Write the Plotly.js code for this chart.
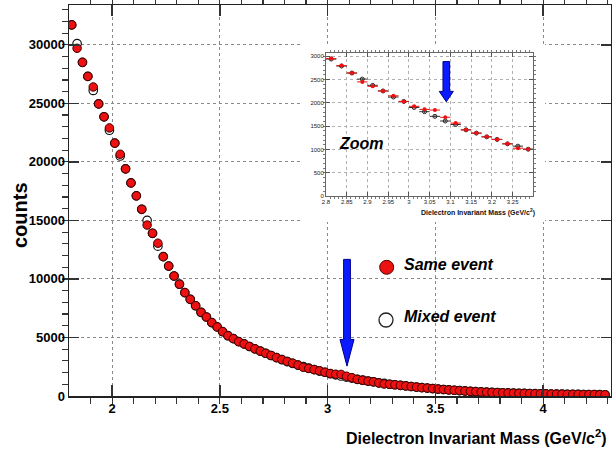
<!DOCTYPE html>
<html>
<head>
<meta charset="utf-8">
<script src="https://cdn.plot.ly/plotly-3.0.1.min.js"></script>
<style>
html,body{margin:0;padding:0;background:#fff;}
#wrap{position:relative;width:612px;height:450px;}
#chart{position:absolute;left:0;top:0;width:612px;height:450px;}
#inset{position:absolute;left:303px;top:44px;width:242px;height:178px;}
</style>
</head>
<body>
<div id="wrap"><div id="chart"></div><div id="inset"></div></div>
<script>
// ---- data (bin centres in GeV/c^2, counts per bin) ----
const massBins = [
  1.8125,1.8375,1.8625,1.8875,1.9125,1.9375,1.9625,1.9875,
  2.0125,2.0375,2.0625,2.0875,2.1125,2.1375,2.1625,2.1875,2.2125,2.2375,
  2.2625,2.2875,2.3125,2.3375,2.3625,2.3875,2.4125,2.4375,2.4625,2.4875,
  2.5125,2.5375,2.5625,2.5875,2.6125,2.6375,2.6625,2.6875,2.7125,2.7375,
  2.7625,2.7875,2.8125,2.8375,2.8625,2.8875,2.9125,2.9375,2.9625,2.9875,
  3.0125,3.0375,3.0625,3.0875,3.1125,3.1375,3.1625,3.1875,3.2125,3.2375,
  3.2625,3.2875,3.3125,3.3375,3.3625,3.3875,3.4125,3.4375,3.4625,3.4875,
  3.5125,3.5375,3.5625,3.5875,3.6125,3.6375,3.6625,3.6875,3.7125,3.7375,
  3.7625,3.7875,3.8125,3.8375,3.8625,3.8875,3.9125,3.9375,3.9625,3.9875,
  4.0125,4.0375,4.0625,4.0875,4.1125,4.1375,4.1625,4.1875,4.2125,4.2375,
  4.2625,4.2875
];
const sameEvent = [
  31700,29700,28500,27300,26400,24950,23850,22900,
  21600,20650,19400,18200,17100,15950,14600,13900,13050,11900,
  11100,10250,9550,8830,8260,7710,7150,6750,6270,5900,
  5500,5150,4900,4640,4450,4230,4030,3840,3650,3460,
  3280,3110,2950,2800,2640,2450,2355,2255,2150,2030,
  1925,1860,1845,1690,1565,1420,1350,1270,1215,1120,
  1025,1005,960,910,860,810,760,715,675,635,
  590,555,520,490,460,430,400,375,350,325,
  305,290,275,260,245,232,220,208,197,187,
  178,170,162,155,148,141,135,129,123,118,
  113,108
];
const mixedEvent = [
  31700,30100,28500,27300,26100,24950,23850,22700,
  21600,20500,19400,18200,17100,15950,15000,13900,12800,11900,
  11100,10250,9550,8830,8260,7710,7150,6750,6270,5900,
  5500,5150,4900,4640,4450,4230,4030,3840,3650,3460,
  3280,3110,2940,2790,2640,2510,2375,2255,2125,2030,
  1900,1810,1710,1610,1535,1420,1350,1270,1215,1120,
  1070,1005,960,910,860,810,760,715,675,635,
  590,555,520,490,460,430,400,375,350,325,
  305,290,275,260,245,232,220,208,197,187,
  178,170,162,155,148,141,135,129,123,118,
  113,108
];
const binHalfWidth = massBins.map(() => 0.0125);
const jpsiMass = 3.09;
const xTitle = 'Dielectron Invariant Mass (GeV/c<sup>2</sup>)';
const yTitle = 'counts';
const legendLabels = ['Same event', 'Mixed event'];
const zoomLabel = 'Zoom';

const FONT = 'Liberation Sans, Arial, sans-serif';
const RED = '#ee1111';
const BLUE = '#0a1cff';

function arrowPath(xc, yTop, yHeadBase, yTip, halfShaft, halfHead) {
  return 'M' + (xc - halfShaft) + ',' + yTop +
    ' L' + (xc + halfShaft) + ',' + yTop +
    ' L' + (xc + halfShaft) + ',' + yHeadBase +
    ' L' + (xc + halfHead) + ',' + yHeadBase +
    ' L' + xc + ',' + yTip +
    ' L' + (xc - halfHead) + ',' + yHeadBase +
    ' L' + (xc - halfShaft) + ',' + yHeadBase + ' Z';
}

// ================= main plot =================
const L = 69, R = 611, T = 5, B = 396;
const px = p => (p - L) / (R - L);
const py = p => (B - p) / (B - T);

const mainTraces = [
  {x: massBins, y: mixedEvent, type: 'scatter', mode: 'markers',
   marker: {symbol: 'circle', size: 8.5, color: '#ffffff', line: {color: '#111111', width: 1.2}},
   hoverinfo: 'skip', showlegend: false},
  {x: massBins, y: sameEvent, type: 'scatter', mode: 'markers',
   marker: {symbol: 'circle', size: 8.5, color: RED, line: {color: '#400000', width: 1}},
   hoverinfo: 'skip', showlegend: false}
];

const mainLayout = {
  width: 612, height: 450,
  margin: {l: L, r: 612 - R, t: T, b: 450 - B, pad: 0},
  paper_bgcolor: '#ffffff', plot_bgcolor: '#ffffff',
  showlegend: false,
  font: {family: FONT, color: '#000'},
  xaxis: {
    range: [1.8, 4.315], ticks: 'inside', showline: true, mirror: 'allticks', zeroline: false,
    tick0: 2, dtick: 0.5, ticklen: 11, tickwidth: 1.5, tickcolor: '#333',
    linecolor: '#222', linewidth: 1.5,
    showgrid: true, griddash: 'dot', gridcolor: '#8a8a8a', gridwidth: 1,
    minor: {tick0: 2, dtick: 0.1, ticklen: 6, tickwidth: 1.2, tickcolor: '#333', showgrid: false},
    tickfont: {family: FONT, size: 13, weight: 'bold', color: '#000'}
  },
  yaxis: {
    range: [0, 33400], ticks: 'inside', showline: true, mirror: 'allticks', zeroline: false,
    tick0: 0, dtick: 5000, tickformat: 'd', ticklen: 10, tickwidth: 1.5, tickcolor: '#333',
    linecolor: '#222', linewidth: 1.5,
    showgrid: true, griddash: 'dot', gridcolor: '#8a8a8a', gridwidth: 1,
    minor: {tick0: 0, dtick: 1000, ticklen: 6, tickwidth: 1.2, tickcolor: '#333', showgrid: false},
    tickfont: {family: FONT, size: 13, weight: 'bold', color: '#000'}
  },
  shapes: [
    {type: 'path', xref: 'x', yref: 'y', layer: 'above',
     path: arrowPath(jpsiMass, 11670, 4830, 2550, 0.0158, 0.0325),
     fillcolor: BLUE, line: {color: '#00008a', width: 1}},
    {type: 'circle', xref: 'paper', yref: 'paper', layer: 'above',
     x0: px(379.7), x1: px(393.7), y0: py(274.3), y1: py(260.3),
     fillcolor: RED, line: {color: '#500000', width: 1}},
    {type: 'circle', xref: 'paper', yref: 'paper', layer: 'above',
     x0: px(379), x1: px(393), y0: py(327), y1: py(313),
     fillcolor: '#ffffff', line: {color: '#222222', width: 1.3}}
  ],
  annotations: [
    {text: xTitle, xref: 'paper', yref: 'paper', x: px(609), y: py(437),
     xanchor: 'right', yanchor: 'middle', showarrow: false,
     font: {family: FONT, size: 16, weight: 'bold', color: '#000'}},
    {text: yTitle, xref: 'paper', yref: 'paper', x: px(20), y: py(215),
     xanchor: 'center', yanchor: 'middle', textangle: -90, showarrow: false,
     font: {family: FONT, size: 20, weight: 'bold', color: '#000'}},
    {text: legendLabels[0], xref: 'paper', yref: 'paper', x: px(402), y: py(264),
     xanchor: 'left', yanchor: 'middle', showarrow: false,
     font: {family: FONT, size: 16, weight: 'bold', style: 'italic', color: '#000'}},
    {text: legendLabels[1], xref: 'paper', yref: 'paper', x: px(402), y: py(316),
     xanchor: 'left', yanchor: 'middle', showarrow: false,
     font: {family: FONT, size: 16, weight: 'bold', style: 'italic', color: '#000'}}
  ]
};

Plotly.newPlot('chart', mainTraces, mainLayout, {staticPlot: true, displayModeBar: false});

// ================= zoom inset =================
// inset div sits at page (303,44), size 242x178; plot area page x 325.7-533, y 53-196
const IL = 22.7, IR = 12, IT = 9, IB = 26;
const IW = 242 - IL - IR, IH = 178 - IT - IB;
const ipx = p => (p - 303 - IL) / IW;
const ipy = p => (178 - IB - (p - 44)) / IH;

const insetTraces = [
  {x: massBins, y: mixedEvent, type: 'scatter', mode: 'markers',
   marker: {symbol: 'circle-open', size: 4, color: '#222222', line: {width: 1}},
   error_x: {type: 'data', array: binHalfWidth, color: '#333333', thickness: 1, width: 0},
   error_y: {type: 'constant', value: 25, color: '#333333', thickness: 1, width: 0},
   hoverinfo: 'skip', showlegend: false},
  {x: massBins, y: sameEvent, type: 'scatter', mode: 'markers',
   marker: {symbol: 'circle', size: 4, color: RED},
   error_x: {type: 'data', array: binHalfWidth, color: RED, thickness: 1, width: 0},
   error_y: {type: 'constant', value: 25, color: RED, thickness: 1, width: 0},
   hoverinfo: 'skip', showlegend: false}
];

const insetLayout = {
  width: 242, height: 178,
  margin: {l: IL, r: IR, t: IT, b: IB, pad: 0},
  paper_bgcolor: '#ffffff', plot_bgcolor: '#ffffff',
  showlegend: false,
  font: {family: FONT, color: '#000'},
  xaxis: {
    range: [2.8, 3.299], ticks: 'inside', showline: true, mirror: 'allticks', zeroline: false,
    tick0: 2.8, dtick: 0.05, ticklen: 4, tickwidth: 1, tickcolor: '#555',
    linecolor: '#666', linewidth: 1,
    showgrid: true, griddash: 'dot', gridcolor: '#b0b0b0', gridwidth: 1,
    minor: {tick0: 2.8, dtick: 0.01, ticklen: 2, tickcolor: '#777', showgrid: false},
    tickfont: {family: FONT, size: 6, color: '#222'}
  },
  yaxis: {
    range: [0, 3070], ticks: 'inside', showline: true, mirror: 'allticks', zeroline: false,
    tick0: 0, dtick: 500, tickformat: 'd', ticklen: 4, tickwidth: 1, tickcolor: '#555',
    linecolor: '#666', linewidth: 1,
    showgrid: true, griddash: 'dot', gridcolor: '#b0b0b0', gridwidth: 1,
    minor: {tick0: 0, dtick: 100, ticklen: 2, tickcolor: '#777', showgrid: false},
    tickfont: {family: FONT, size: 6, color: '#222'}
  },
  shapes: [
    {type: 'path', xref: 'x', yref: 'y', layer: 'above',
     path: arrowPath(jpsiMass, 2886, 2246, 2024, 0.0080, 0.0170),
     fillcolor: BLUE, line: {color: '#00008a', width: 1}}
  ],
  annotations: [
    {text: zoomLabel, xref: 'paper', yref: 'paper', x: ipx(337), y: ipy(143),
     xanchor: 'left', yanchor: 'middle', showarrow: false,
     font: {family: FONT, size: 16, weight: 'bold', style: 'italic', color: '#000'}},
    {text: xTitle, xref: 'paper', yref: 'paper', x: ipx(537), y: ipy(212),
     xanchor: 'right', yanchor: 'middle', showarrow: false,
     font: {family: FONT, size: 7, weight: 'bold', color: '#111'}}
  ]
};

Plotly.newPlot('inset', insetTraces, insetLayout, {staticPlot: true, displayModeBar: false});
</script>
</body>
</html>
